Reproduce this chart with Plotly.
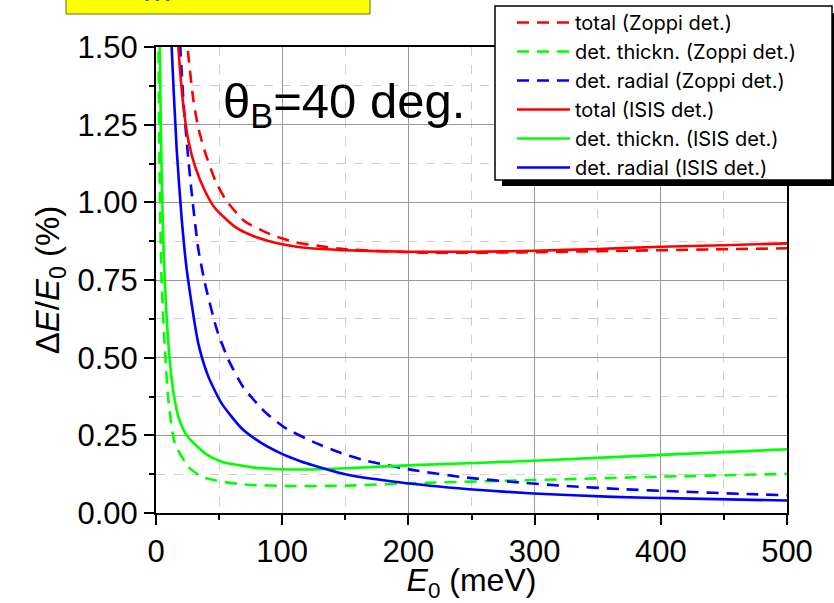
import plotly.graph_objects as go

# ---------------- data ----------------
E_red_isis = [15, 17.7, 21.7, 25.6, 31, 39, 47, 63, 78, 100, 120, 150, 200, 250, 300, 350, 400, 450, 500]
V_red_isis = [1.72, 1.50, 1.31, 1.20, 1.115, 1.035, 0.98, 0.92, 0.89, 0.865, 0.853, 0.846, 0.841, 0.841, 0.844, 0.85, 0.857, 0.862, 0.868]

E_red_zop = [22, 25, 29.6, 33.5, 39, 47, 55, 70, 92, 109, 130, 150, 210, 290, 370, 450, 500]
V_red_zop = [1.68, 1.50, 1.33, 1.24, 1.16, 1.07, 1.01, 0.94, 0.895, 0.873, 0.859, 0.849, 0.838, 0.839, 0.844, 0.849, 0.852]

E_blue_isis = [11, 12.4, 16.4, 20.3, 24.3, 33.5, 41.5, 52, 68, 84, 99, 115, 125, 151, 199, 257, 299, 362, 415, 500]
V_blue_isis = [1.70, 1.50, 1.17, 0.95, 0.785, 0.546, 0.439, 0.353, 0.272, 0.224, 0.192, 0.166, 0.153, 0.124, 0.096, 0.074, 0.063, 0.052, 0.047, 0.04]

E_blue_zop = [17, 19.5, 22, 25.6, 28.3, 30.9, 33.5, 38.8, 48.1, 57.3, 69.2, 86.4, 102, 125, 146, 167, 204, 246, 283, 325, 368, 415, 468, 500]
V_blue_zop = [1.70, 1.48, 1.31, 1.14, 1.03, 0.935, 0.85, 0.739, 0.592, 0.494, 0.405, 0.325, 0.275, 0.228, 0.194, 0.168, 0.138, 0.114, 0.1, 0.087, 0.077, 0.069, 0.061, 0.057]

E_green_isis = [2.2, 3, 4, 5, 6, 8, 9.8, 12.4, 15, 17.7, 21.5, 25.6, 38.8, 52, 78, 98, 115, 151, 204, 299, 400, 500]
V_green_isis = [2.1, 1.5, 1.2, 1.0, 0.85, 0.66, 0.546, 0.43, 0.36, 0.31, 0.27, 0.243, 0.192, 0.165, 0.146, 0.141, 0.14, 0.144, 0.154, 0.168, 0.187, 0.205]

E_green_zop = [1.6, 2, 3, 4.5, 7.1, 9.8, 15, 25.6, 36.2, 52, 73, 106, 151, 199, 299, 400, 500]
V_green_zop = [2.0, 1.5, 1.05, 0.74, 0.525, 0.364, 0.224, 0.149, 0.117, 0.101, 0.091, 0.087, 0.088, 0.0955, 0.106, 0.117, 0.126]

x_ticks = [0, 100, 200, 300, 400, 500]
y_ticks = [0.0, 0.25, 0.5, 0.75, 1.0, 1.25, 1.5]

FONT = "Liberation Sans, Arial, sans-serif"
LEG_FONT = "Inter, Liberation Sans, Arial, sans-serif"
RED, GREEN, BLUE = "#FF0000", "#00FF00", "#0000FF"
DASH = "12px,8px"
LW = 2.6

series = [
    ("total (Zoppi det.)", E_red_zop, V_red_zop, RED, DASH),
    ("det. thickn. (Zoppi det.)", E_green_zop, V_green_zop, GREEN, DASH),
    ("det. radial (Zoppi det.)", E_blue_zop, V_blue_zop, BLUE, DASH),
    ("total (ISIS det.)", E_red_isis, V_red_isis, RED, "solid"),
    ("det. thickn. (ISIS det.)", E_green_isis, V_green_isis, GREEN, "solid"),
    ("det. radial (ISIS det.)", E_blue_isis, V_blue_isis, BLUE, "solid"),
]

fig = go.Figure()
for name, xs, ys, col, dash in series:
    fig.add_trace(go.Scatter(x=xs, y=ys, mode="lines", name=name,
                             line=dict(color=col, width=LW, dash=dash, shape="spline", smoothing=0.6)))

# plot area in px: x 156..787, y 47..513 (fig 834x603)
L, R, T, B = 156, 47, 47, 90
W, H = 834, 603
pw, ph = W - L - R, H - T - B

def px2paper(xp, yp):
    return (xp - L) / pw, (H - B - yp) / ph

axis_common = dict(
    showline=True, linecolor="black", linewidth=2, mirror=True,
    ticks="outside", ticklen=10, tickwidth=2, tickcolor="black",
    showgrid=True, gridcolor="#9a9a9a", gridwidth=1,
    zeroline=False,
    tickfont=dict(family=FONT, size=31, color="black"),
    minor=dict(ticks="outside", ticklen=5, tickwidth=2, tickcolor="black",
               showgrid=True, gridcolor="#cfcfcf", griddash="dash", gridwidth=1),
)

fig.update_xaxes(range=[0, 500], tickvals=x_ticks, ticktext=[str(v) for v in x_ticks],
                 title=dict(text="<i>E</i><sub>0</sub> (meV)", font=dict(family=FONT, size=32, color="black"), standoff=5),
                 **axis_common)
fig.update_yaxes(range=[0, 1.5], tickvals=y_ticks, ticktext=[f"{v:.2f}" for v in y_ticks],
                 title=dict(text="Δ<i>E</i>/<i>E</i><sub>0</sub> (%)", font=dict(family=FONT, size=33, color="black"), standoff=8),
                 **axis_common)
fig.update_xaxes(minor_tickvals=[50, 150, 250, 350, 450])
fig.update_yaxes(minor_tickvals=[0.125, 0.375, 0.625, 0.875, 1.125, 1.375])

lx, ly = px2paper(512, 3)
fig.update_layout(
    width=W, height=H,
    margin=dict(l=L, r=R, t=T, b=B, pad=0, autoexpand=False),
    paper_bgcolor="white", plot_bgcolor="white",
    font=dict(family=FONT, color="black"),
    showlegend=True,
    legend=dict(x=lx, y=ly, xanchor="left", yanchor="top",
                bgcolor="rgba(0,0,0,0)", borderwidth=0,
                font=dict(family=LEG_FONT, size=20, color="black"),
                itemwidth=53),
)

# legend frame + shadow
sx0, sy0 = px2paper(502, 186)
sx1, sy1 = px2paper(845, 13)
fig.add_shape(type="rect", xref="paper", yref="paper", x0=sx0, y0=sy0, x1=sx1, y1=sy1,
              fillcolor="black", line=dict(width=0), layer="above")
bx0, by0 = px2paper(495, 180)
bx1, by1 = px2paper(832, 6)
fig.add_shape(type="rect", xref="paper", yref="paper", x0=bx0, y0=by0, x1=bx1, y1=by1,
              fillcolor="white", line=dict(color="black", width=1.5), layer="above")

# yellow box at top-left (cut off)
yx0, yy0 = px2paper(66, 14)
yx1, yy1 = px2paper(370, -10)
fig.add_shape(type="rect", xref="paper", yref="paper", x0=yx0, y0=yy0, x1=yx1, y1=yy1,
              fillcolor="#FFFF00", line=dict(color="#6b6b2a", width=1), layer="above")
gx, gy = px2paper(157, 5)
fig.add_annotation(x=gx, y=gy, xref="paper", yref="paper", text="m", showarrow=False,
                   xanchor="center", yanchor="bottom", yshift=-5,
                   font=dict(family=FONT, size=34, color="#008000"))

# theta label
tx, ty = px2paper(221, 104)
fig.add_annotation(x=tx, y=ty, xref="paper", yref="paper", text="θ<sub>B</sub>=40 deg.",
                   showarrow=False, xanchor="left", yanchor="middle",
                   font=dict(family=FONT, size=49, color="black"))

fig.write_html("out.html")
